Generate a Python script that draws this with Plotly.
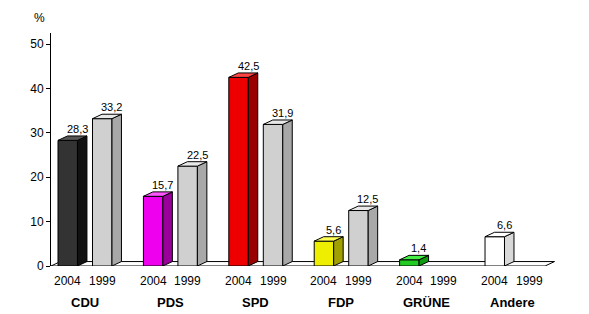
import plotly.graph_objects as go

parties = ["CDU", "PDS", "SPD", "FDP", "GRÜNE", "Andere"]
years = ["2004", "1999"]
values_2004 = [28.3, 15.7, 42.5, 5.6, 1.4, 6.6]
values_1999 = [33.2, 22.5, 31.9, 12.5, None, None]
y_ticks = [0, 10, 20, 30, 40, 50]

# colours: (front, side, top)
colors_2004 = [
    ("#333333", "#111111", "#555555"),
    ("#ee00ee", "#990099", "#ff55ff"),
    ("#ee0000", "#990000", "#ff4444"),
    ("#eeee00", "#a0a000", "#ffff55"),
    ("#22cc22", "#119911", "#44ee44"),
    ("#ffffff", "#d8d8d8", "#ffffff"),
]
color_1999 = ("#d0d0d0", "#a8a8a8", "#e8e8e8")

# geometry (axis units): group spacing 1, bar width, offset of 1999 bar, depth
W = 0.228
OFF = 0.404
DX = 0.111
DY = 1.0
FONT = "Liberation Sans, Arial, sans-serif"

fig = go.Figure()

def fmt(v):
    return ("%.1f" % v).replace(".", ",")

annotations = []

for i, p in enumerate(parties):
    for j, (vals, cols) in enumerate([(values_2004, colors_2004[i]), (values_1999, color_1999)]):
        v = vals[i]
        if v is None:
            continue
        x0 = i + j * OFF
        x1 = x0 + W
        front, side, top = cols
        fig.add_trace(go.Bar(x=[(x0 + x1) / 2], y=[v], width=[W], base=0,
                             marker=dict(color=front, line=dict(color="black", width=1)),
                             showlegend=False, hoverinfo="skip"))
        fig.add_trace(go.Scatter(x=[x1, x1 + DX, x1 + DX, x1, x1],
                                 y=[0, DY, v + DY, v, 0],
                                 mode="lines", fill="toself", fillcolor=side,
                                 line=dict(color="black", width=1),
                                 showlegend=False, hoverinfo="skip"))
        fig.add_trace(go.Scatter(x=[x0, x1, x1 + DX, x0 + DX, x0],
                                 y=[v, v, v + DY, v + DY, v],
                                 mode="lines", fill="toself", fillcolor=top,
                                 line=dict(color="black", width=1),
                                 showlegend=False, hoverinfo="skip"))
        annotations.append(dict(x=(x0 + x1) / 2 + DX, y=v + DY, xref="x", yref="y",
                                text=fmt(v), showarrow=False, yanchor="bottom",
                                yshift=-1, font=dict(family=FONT, size=11, color="black")))
    # year labels
    for j, yr in enumerate(years):
        annotations.append(dict(x=i + j * OFF + W / 2, y=0, xref="x", yref="paper",
                                text=yr, showarrow=False, yanchor="middle", yshift=-15,
                                font=dict(family=FONT, size=12, color="black")))
    annotations.append(dict(x=i + (OFF + W) / 2, y=0, xref="x", yref="paper",
                            text="<b>%s</b>" % p, showarrow=False, yanchor="middle",
                            yshift=-36, font=dict(family=FONT, size=13, color="black")))

annotations.append(dict(x=0, y=1, xref="paper", yref="paper", text="%", showarrow=False,
                        xanchor="right", yanchor="bottom", xshift=-4, yshift=6,
                        font=dict(family=FONT, size=12, color="black")))

XL = -0.082
XR = 5.703
fig.add_shape(type="path", xref="x", yref="y",
              path=f"M {XL} 0 L {XR} 0 L {XR + DX} {DY} L {XL + DX} {DY} Z",
              fillcolor="white", line=dict(color="black", width=1), layer="below")

fig.update_layout(
    width=589, height=314,
    margin=dict(l=51, r=29, t=33, b=48),
    paper_bgcolor="white", plot_bgcolor="rgba(0,0,0,0)",
    barmode="overlay",
    xaxis=dict(range=[XL, 5.878], visible=False, fixedrange=True),
    yaxis=dict(range=[0, 52.5], tickvals=y_ticks, showline=True, linecolor="black",
               linewidth=1, ticks="outside", ticklen=4, tickcolor="black",
               showgrid=False, zeroline=False, tickfont=dict(family=FONT, size=12, color="black")),
    annotations=annotations,
    showlegend=False,
)

fig.write_html("out.html")
